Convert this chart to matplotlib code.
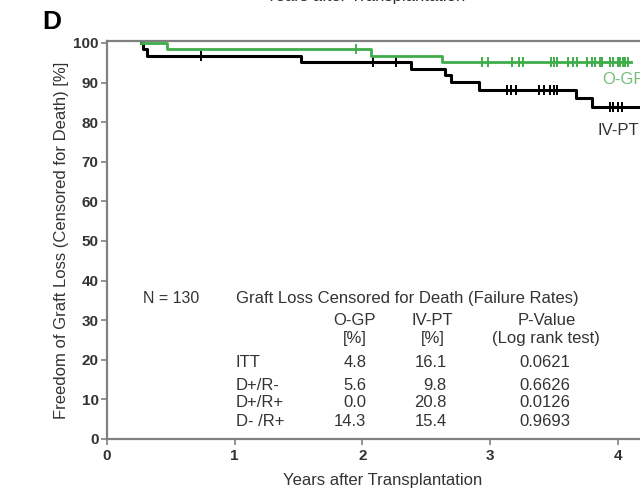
import matplotlib
matplotlib.use("Agg")
import matplotlib.pyplot as plt

plt.rcParams['font.family'] = ['Liberation Sans', 'DejaVu Sans']

# Kaplan-Meier steps: (time in years, survival after event in %)
ogp_start = 0.27
ogp_event_t = [0.47, 2.07, 2.62]
ogp_event_s = [98.4, 96.8, 95.2]
ogp_end = 4.10
ogp_censor_t = [1.95, 2.94, 2.98, 3.17, 3.23, 3.26, 3.48, 3.50, 3.52, 3.61, 3.65,
                3.68, 3.76, 3.80, 3.82, 3.86, 3.88, 3.94, 3.96, 4.00, 4.02, 4.04,
                4.06, 4.08]

ivpt_start = 0.27
ivpt_event_t = [0.28, 0.31, 1.52, 2.38, 2.65, 2.69, 2.91, 3.67, 3.80]
ivpt_event_s = [98.4, 96.8, 95.2, 93.5, 91.9, 90.2, 88.1, 86.0, 83.9]
ivpt_end = 4.40
ivpt_censor_t = [0.74, 2.08, 2.26, 3.13, 3.16, 3.20, 3.38, 3.42, 3.47, 3.50, 3.52,
                 3.94, 3.96, 4.00, 4.03]

# Failure-rate table
row_labels = ["ITT", "D+/R-", "D+/R+", "D- /R+"]
ogp_rates = ["4.8", "5.6", "0.0", "14.3"]
ivpt_rates = ["16.1", "9.8", "20.8", "15.4"]
p_values = ["0.0621", "0.6626", "0.0126", "0.9693"]

x_ticks = [0, 1, 2, 3, 4]
y_ticks = [0, 10, 20, 30, 40, 50, 60, 70, 80, 90, 100]

GREEN = "#3fae4a"
GREEN_TXT = "#72c07a"
TXT = "#333333"
SPINE = "#808080"


def km_path(start, ev_t, ev_s, end):
    xs, ys = [start], [100.0]
    for t, s in zip(ev_t, ev_s):
        xs.append(t)
        ys.append(s)
    xs.append(end)
    ys.append(ys[-1])
    return xs, ys


def surv_at(t, ev_t, ev_s):
    s = 100.0
    for et, es in zip(ev_t, ev_s):
        if t >= et:
            s = es
    return s


fig = plt.figure(figsize=(6.4, 4.91), dpi=100)
W, H = 640.0, 491.0
x0_px, y0_px = 107.0, 439.0
px_per_year, px_per_pct = 127.7, 3.96
xmax, ymax = 4.5, 100.5
ax = fig.add_axes([x0_px / W, (H - y0_px) / H,
                   xmax * px_per_year / W, ymax * px_per_pct / H])
ax.set_xlim(0, xmax)
ax.set_ylim(0, ymax)

xs, ys = km_path(ivpt_start, ivpt_event_t, ivpt_event_s, ivpt_end)
ax.step(xs, ys, where="post", color="black", lw=2.2, zorder=3)
ax.plot(ivpt_censor_t, [surv_at(t, ivpt_event_t, ivpt_event_s) for t in ivpt_censor_t],
        ls="none", marker="|", ms=7, mew=1.4, color="black", zorder=3)

xs, ys = km_path(ogp_start, ogp_event_t, ogp_event_s, ogp_end)
ax.step(xs, ys, where="post", color=GREEN, lw=2.0, zorder=4)
ax.plot(ogp_censor_t, [surv_at(t, ogp_event_t, ogp_event_s) for t in ogp_censor_t],
        ls="none", marker="|", ms=7, mew=1.4, color=GREEN, zorder=4)

ax.text(3.88, 90.7, "O-GP", color=GREEN_TXT, fontsize=12, va="center", ha="left")
ax.text(3.84, 78.0, "IV-PT", color=TXT, fontsize=12, va="center", ha="left")

# Axes styling
for side in ["left", "bottom", "top", "right"]:
    ax.spines[side].set_color(SPINE)
    ax.spines[side].set_linewidth(1.6)
ax.set_xticks(x_ticks)
ax.set_yticks(y_ticks)
ax.tick_params(axis="both", colors=SPINE, labelcolor=TXT, labelsize=11,
               length=4, width=1.2, direction="out")
ax.tick_params(axis="y", pad=2)
ax.tick_params(axis="x", pad=3)
for lab in ax.get_xticklabels() + ax.get_yticklabels():
    lab.set_fontweight("bold")

# Table inside the plot
fs = 12
ax.text(0.28, 35.4, "N = 130", fontsize=11.5, color=TXT, va="center", ha="left")
ax.text(1.01, 35.4, "Graft Loss Censored for Death (Failure Rates)", fontsize=fs,
        color=TXT, va="center", ha="left")
ax.text(1.94, 30.0, "O-GP", fontsize=fs, color=TXT, va="center", ha="center")
ax.text(1.94, 25.5, "[%]", fontsize=fs, color=TXT, va="center", ha="center")
ax.text(2.55, 30.0, "IV-PT", fontsize=fs, color=TXT, va="center", ha="center")
ax.text(2.55, 25.5, "[%]", fontsize=fs, color=TXT, va="center", ha="center")
ax.text(3.44, 30.0, "P-Value", fontsize=fs, color=TXT, va="center", ha="center")
ax.text(3.44, 25.5, "(Log rank test)", fontsize=fs, color=TXT, va="center", ha="center")
row_y = [19.4, 13.4, 9.1, 4.5]
for y, lab, a, b, p in zip(row_y, row_labels, ogp_rates, ivpt_rates, p_values):
    ax.text(1.01, y, lab, fontsize=fs, color=TXT, va="center", ha="left")
    ax.text(2.03, y, a, fontsize=fs, color=TXT, va="center", ha="right")
    ax.text(2.66, y, b, fontsize=fs, color=TXT, va="center", ha="right")
    ax.text(3.43, y, p, fontsize=fs, color=TXT, va="center", ha="center")

# Axis titles and panel letter
fig.text(383 / W, 1 - 480 / H, "Years after Transplantation", fontsize=12,
         color=TXT, ha="center", va="center")
fig.text(62 / W, 1 - 240 / H, "Freedom of Graft Loss (Censored for Death) [%]",
         fontsize=12, color=TXT, ha="center", va="center", rotation=90)
fig.text(42 / W, 1 - 22 / H, "D", fontsize=19, fontweight="bold", color="black",
         ha="left", va="center")
# Axis title of the panel above, cut by the top edge
fig.text(366 / W, 1 - 1 / H, "Years after Transplantation", fontsize=12,
         color=TXT, ha="center", va="baseline")

fig.savefig("out.png", dpi=100)
